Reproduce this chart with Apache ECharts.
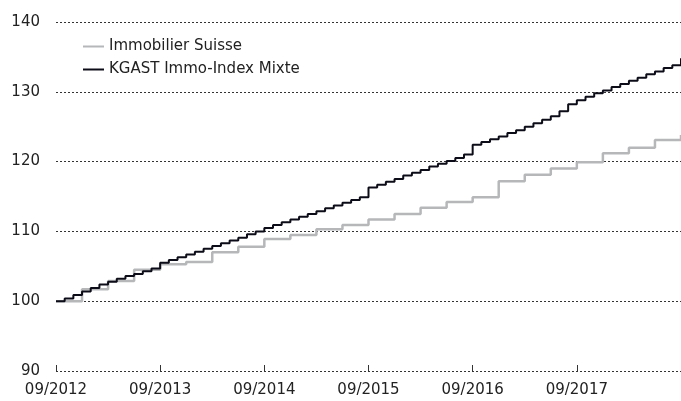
<!DOCTYPE html>
<html>
<head>
<meta charset="utf-8">
<script src="https://cdn.jsdelivr.net/npm/echarts@6/dist/echarts.min.js"></script>
<style>
  html, body { margin: 0; padding: 0; background: #fff; }
  #chart { width: 681px; height: 401px; }
</style>
</head>
<body>
<div id="chart"></div>
<script>
// monthly dates 09/2012 .. 09/2018
const months = [
  '09/2012','10/2012','11/2012','12/2012','01/2013','02/2013','03/2013','04/2013','05/2013','06/2013','07/2013','08/2013',
  '09/2013','10/2013','11/2013','12/2013','01/2014','02/2014','03/2014','04/2014','05/2014','06/2014','07/2014','08/2014',
  '09/2014','10/2014','11/2014','12/2014','01/2015','02/2015','03/2015','04/2015','05/2015','06/2015','07/2015','08/2015',
  '09/2015','10/2015','11/2015','12/2015','01/2016','02/2016','03/2016','04/2016','05/2016','06/2016','07/2016','08/2016',
  '09/2016','10/2016','11/2016','12/2016','01/2017','02/2017','03/2017','04/2017','05/2017','06/2017','07/2017','08/2017',
  '09/2017','10/2017','11/2017','12/2017','01/2018','02/2018','03/2018','04/2018','05/2018','06/2018','07/2018','08/2018',
  '09/2018'
];

const immoSuisse = [
  100.0, 100.0, 100.0, 101.7, 101.7, 101.7, 102.9, 102.9, 102.9, 104.5, 104.5, 104.5,
  105.3, 105.3, 105.3, 105.6, 105.6, 105.6, 107.0, 107.0, 107.0, 107.8, 107.8, 107.8,
  108.9, 108.9, 108.9, 109.5, 109.5, 109.5, 110.3, 110.3, 110.3, 110.9, 110.9, 110.9,
  111.7, 111.7, 111.7, 112.5, 112.5, 112.5, 113.4, 113.4, 113.4, 114.2, 114.2, 114.2,
  114.9, 114.9, 114.9, 117.2, 117.2, 117.2, 118.1, 118.1, 118.1, 119.0, 119.0, 119.0,
  119.9, 119.9, 119.9, 121.2, 121.2, 121.2, 122.0, 122.0, 122.0, 123.1, 123.1, 123.1,
  123.8
];

const kgast = [
  100.0, 100.4, 100.9, 101.4, 101.9, 102.4, 102.8, 103.2, 103.6, 103.9, 104.3, 104.7,
  105.5, 105.9, 106.3, 106.7, 107.1, 107.5, 107.9, 108.3, 108.7, 109.1, 109.6, 110.0,
  110.5, 110.9, 111.3, 111.7, 112.1, 112.5, 112.9, 113.3, 113.7, 114.1, 114.5, 114.9,
  116.3, 116.7, 117.1, 117.5, 118.0, 118.4, 118.8, 119.3, 119.7, 120.1, 120.5, 121.0,
  122.4, 122.8, 123.2, 123.6, 124.1, 124.5, 125.0, 125.5, 126.0, 126.5, 127.2, 128.2,
  128.8, 129.3, 129.8, 130.2, 130.7, 131.1, 131.6, 132.0, 132.5, 132.9, 133.4, 133.8,
  134.8
];

const chart = echarts.init(document.getElementById('chart'));
const font = '"DejaVu Sans", sans-serif';
const gridLine = { show: true, lineStyle: { type: [2, 2], color: '#333', width: 1 } };
// a label and tick every 12 months, none at the right edge
const yearly = (i) => i % 12 === 0 && i < months.length - 1;

chart.setOption({
  animation: false,
  textStyle: { fontFamily: font },
  grid: { left: 56, right: 0, top: 22, bottom: 30, containLabel: false, outerBoundsMode: 'none' },
  legend: {
    left: 78, top: 34,
    orient: 'vertical',
    itemWidth: 21, itemHeight: 2, itemGap: 8,
    icon: 'rect',
    textStyle: { fontSize: 15, color: '#222', fontFamily: font },
    data: ['Immobilier Suisse', 'KGAST Immo-Index Mixte']
  },
  xAxis: {
    type: 'category',
    data: months,
    boundaryGap: false,
    axisLine: { show: false },
    axisTick: { show: true, inside: true, length: 6, interval: yearly, lineStyle: { color: '#333' } },
    axisLabel: { interval: yearly, fontSize: 15, color: '#222', margin: 12 },
    splitLine: { show: false }
  },
  yAxis: {
    type: 'value',
    min: 90, max: 140, interval: 10,
    axisLine: { show: false },
    axisTick: { show: false },
    axisLabel: { fontSize: 15, color: '#222', margin: 16 },
    splitLine: gridLine
  },
  series: [
    {
      name: 'Immobilier Suisse', type: 'line', step: 'end', data: immoSuisse,
      showSymbol: false, symbol: 'none',
      color: '#b5b7b9',
      lineStyle: { width: 2.5, color: '#b5b7b9' }
    },
    {
      name: 'KGAST Immo-Index Mixte', type: 'line', step: 'end', data: kgast,
      showSymbol: false, symbol: 'none',
      color: '#0c0c18',
      lineStyle: { width: 2, color: '#0c0c18' }
    }
  ]
});
</script>
</body>
</html>
